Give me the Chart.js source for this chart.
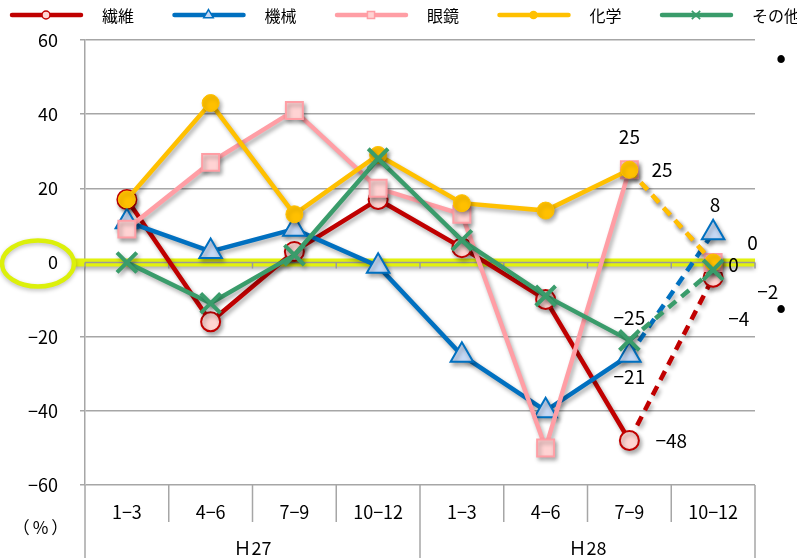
<!DOCTYPE html>
<html>
<head>
<meta charset="utf-8">
<script src="https://cdn.jsdelivr.net/npm/chart.js@4"></script>
<style>
  html, body { margin: 0; padding: 0; background: #fff; }
  #wrap { width: 797px; height: 558px; }
</style>
</head>
<body>
<div id="wrap"><canvas id="chart"></canvas></div>
<script>
// categories
const quarters = ['1−3', '4−6', '7−9', '10−12', '1−3', '4−6', '7−9', '10−12'];
const years = ['Ｈ27', 'Ｈ28'];
const unitLabel = '（%）';

// series (%)
const seni   = [17, -16, 3, 17, 4, -10, -48, -4];
const kikai  = [11, 3, 9, -1, -25, -40, -25, 8];
const megane = [9, 27, 41, 20, 13, -50, 25, 0];
const kagaku = [17, 43, 13, 29, 16, 14, 25, 0];
const sonota = [0, -11, 2, 28, 6, -9, -21, -2];

const yTicks = [-60, -40, -20, 0, 20, 40, 60];

const numFont = "'Liberation Sans Narrow', 'Noto Sans CJK JP', sans-serif";
const jpFont = "'Noto Sans CJK JP', sans-serif";
const minus = v => (v < 0 ? '−' + Math.abs(v) : String(v));

// which points carry a value label, and where the label sits
const labelPos = {
    0: { 6: [38, 0], 7: [27, 41] },
    1: { 6: [0, -37], 7: [2, -28] },
    2: { 6: [0, -33], 7: [46, -20] },
    3: { 6: [34, 0], 7: [27, 2] },
    4: { 6: [0, 36], 7: [56, 22] }
};

const dashLast = {
    borderDash: ctx => (ctx.p1DataIndex === quarters.length - 1 ? [10, 7] : undefined)
};

function series(label, data, color, style) {
    return Object.assign({
        label: label,
        data: data,
        borderColor: color,
        borderWidth: 4.5,
        tension: 0,
        fill: false,
        segment: dashLast
    }, style);
}

const datasets = [
    series('繊維', seni, '#c00000', { pointStyle: 'circle', pointRadius: 9.5, pointBackgroundColor: '#ffd5d2', pointBorderColor: '#c00000', pointBorderWidth: 2, order: 5 }),
    series('機械', kikai, '#0070c0', { pointStyle: 'triangle', pointRadius: 13, pointBackgroundColor: '#c6d9f5', pointBorderColor: '#0070c0', pointBorderWidth: 2, order: 4 }),
    series('眼鏡', megane, '#ff9ea5', { pointStyle: 'rect', pointRadius: 12, pointBackgroundColor: '#ffd3d3', pointBorderColor: '#ff9ea5', pointBorderWidth: 2, order: 3 }),
    series('化学', kagaku, '#ffc000', { pointStyle: 'circle', pointRadius: 8.5, pointBackgroundColor: '#ffc000', pointBorderColor: '#ffc000', pointBorderWidth: 1, order: 2 }),
    series('その他', sonota, '#3a9c6b', { pointStyle: 'crossRot', pointRadius: 14, pointBackgroundColor: '#3a9c6b', pointBorderColor: '#3a9c6b', pointBorderWidth: 4, order: 1 })
];

function marker(ctx, ds, x, y, scale) {
    const r = ds.pointRadius * scale;
    ctx.save();
    ctx.fillStyle = ds.pointBackgroundColor;
    ctx.strokeStyle = ds.pointBorderColor;
    ctx.lineWidth = Math.max(1.5, ds.pointBorderWidth * scale);
    ctx.beginPath();
    if (ds.pointStyle === 'circle') {
        ctx.arc(x, y, r, 0, Math.PI * 2);
        ctx.fill(); ctx.stroke();
    } else if (ds.pointStyle === 'triangle') {
        ctx.moveTo(x, y - r);
        ctx.lineTo(x + r * 0.87, y + r * 0.5);
        ctx.lineTo(x - r * 0.87, y + r * 0.5);
        ctx.closePath();
        ctx.fill(); ctx.stroke();
    } else if (ds.pointStyle === 'rect') {
        const s = r * 0.707;
        ctx.rect(x - s, y - s, s * 2, s * 2);
        ctx.fill(); ctx.stroke();
    } else {
        const s = r * 0.707;
        ctx.moveTo(x - s, y - s); ctx.lineTo(x + s, y + s);
        ctx.moveTo(x + s, y - s); ctx.lineTo(x - s, y + s);
        ctx.stroke();
    }
    ctx.restore();
}

const decor = {
    id: 'decor',
    beforeDatasetsDraw(chart) {
        const { ctx, chartArea, scales } = chart;
        const y0 = scales.y.getPixelForValue(0);
        const w = (chartArea.right - chartArea.left) / quarters.length;
        ctx.save();
        ctx.shadowColor = 'rgba(0,0,0,0.3)';
        ctx.shadowBlur = 4;
        ctx.shadowOffsetY = 3;
        ctx.fillStyle = '#e2f20c';
        ctx.fillRect(74, y0 - 4, chartArea.right - 74, 8);
        ctx.restore();
        ctx.save();
        ctx.strokeStyle = '#9a9a9a';
        ctx.lineWidth = 1.5;
        ctx.beginPath();
        ctx.moveTo(chartArea.left, y0);
        ctx.lineTo(chartArea.right, y0);
        for (let i = 0; i <= quarters.length; i++) {
            const x = chartArea.left + i * w;
            ctx.moveTo(x, y0);
            ctx.lineTo(x, y0 + 6);
        }
        ctx.stroke();
        ctx.restore();
        // drop shadow on the series
        ctx.save();
        ctx.shadowColor = 'rgba(0,0,0,0.32)';
        ctx.shadowBlur = 4;
        ctx.shadowOffsetX = 2;
        ctx.shadowOffsetY = 3;
    },
    afterDatasetsDraw(chart) {
        chart.ctx.restore();
    },
    afterDraw(chart) {
        const { ctx, chartArea, scales } = chart;
        const H = chart.height;
        const y0 = scales.y.getPixelForValue(0);
        const w = (chartArea.right - chartArea.left) / quarters.length;
        ctx.save();

        // ring around the zero label
        ctx.shadowColor = 'rgba(0,0,0,0.25)';
        ctx.shadowBlur = 4;
        ctx.shadowOffsetY = 2;
        ctx.strokeStyle = '#dcf00a';
        ctx.lineWidth = 4.5;
        ctx.beginPath();
        ctx.ellipse(38, y0 + 1, 36, 23, 0, 0, Math.PI * 2);
        ctx.stroke();
        ctx.shadowColor = 'transparent';

        // category separators below the axis
        ctx.strokeStyle = '#a6a6a6';
        ctx.lineWidth = 1.5;
        ctx.beginPath();
        for (let i = 0; i <= quarters.length; i++) {
            const x = chartArea.left + i * w;
            ctx.moveTo(x, chartArea.bottom);
            ctx.lineTo(x, i % 4 === 0 ? H : chartArea.bottom + 37);
        }
        ctx.stroke();

        // year labels
        ctx.fillStyle = '#000';
        ctx.textAlign = 'center';
        ctx.textBaseline = 'middle';
        ctx.font = '18px ' + numFont;
        years.forEach((yr, k) => {
            ctx.fillText(yr, chartArea.left + (k * 4 + 2) * w, chartArea.bottom + 63);
        });
        ctx.font = '17px ' + jpFont;
        ctx.letterSpacing = '3px';
        ctx.fillText(unitLabel, 42, chartArea.bottom + 43);
        ctx.letterSpacing = '0px';

        // value labels
        ctx.font = '19px ' + numFont;
        chart.data.datasets.forEach((ds, di) => {
            const meta = chart.getDatasetMeta(di);
            const pos = labelPos[di] || {};
            Object.keys(pos).forEach(j => {
                const p = meta.data[j];
                ctx.textAlign = pos[j][0] > 20 ? 'left' : 'center';
                const dx = pos[j][0] > 20 ? pos[j][0] - 12 : pos[j][0];
                ctx.fillText(minus(ds.data[j]), p.x + dx, p.y + pos[j][1]);
            });
        });

        // legend
        ctx.textAlign = 'left';
        ctx.font = '16px ' + jpFont;
        chart.data.datasets.forEach((ds, i) => {
            const x = 10 + i * 162.5;
            const y = 15;
            ctx.strokeStyle = ds.borderColor;
            ctx.lineWidth = 4.5;
            ctx.lineCap = 'round';
            ctx.beginPath();
            ctx.moveTo(x + 2, y);
            ctx.lineTo(x + 71, y);
            ctx.stroke();
            ctx.lineCap = 'butt';
            marker(ctx, ds, x + 36, y, 0.42);
            ctx.fillStyle = '#000';
            ctx.fillText(ds.label, x + 92, y + 1);
        });

        // bullets of the neighbouring text box
        ctx.font = '30px ' + numFont;
        ctx.textAlign = 'center';
        ctx.fillText('•', 781, 57);
        ctx.fillText('•', 781, 307);
        ctx.restore();
    }
};

const ctx = document.getElementById('chart');
new Chart(ctx, {
    type: 'line',
    data: { labels: quarters, datasets: datasets },
    options: {
        responsive: true,
        maintainAspectRatio: false,
        animation: false,
        events: [],
        layout: { padding: { top: 40, right: 42, left: 0, bottom: 0 } },
        plugins: {
            legend: { display: false },
            tooltip: { enabled: false }
        },
        scales: {
            x: {
                offset: true,
                grid: { display: false },
                border: { display: false },
                ticks: {
                    color: '#000',
                    padding: 8,
                    maxRotation: 0,
                    autoSkip: false,
                    font: { family: numFont, size: 18 }
                },
                afterFit: s => { s.height = 73; }
            },
            y: {
                min: yTicks[0],
                max: yTicks[yTicks.length - 1],
                grid: {
                    color: '#a6a6a6',
                    lineWidth: 1.5,
                    tickLength: 5
                },
                border: { display: true, color: '#a6a6a6', width: 1.5 },
                ticks: {
                    stepSize: yTicks[1] - yTicks[0],
                    color: '#000',
                    padding: 22,
                    font: { family: numFont, size: 18 },
                    callback: v => minus(v)
                },
                afterFit: s => { s.width = 85; }
            }
        }
    },
    plugins: [decor]
});
</script>
</body>
</html>
